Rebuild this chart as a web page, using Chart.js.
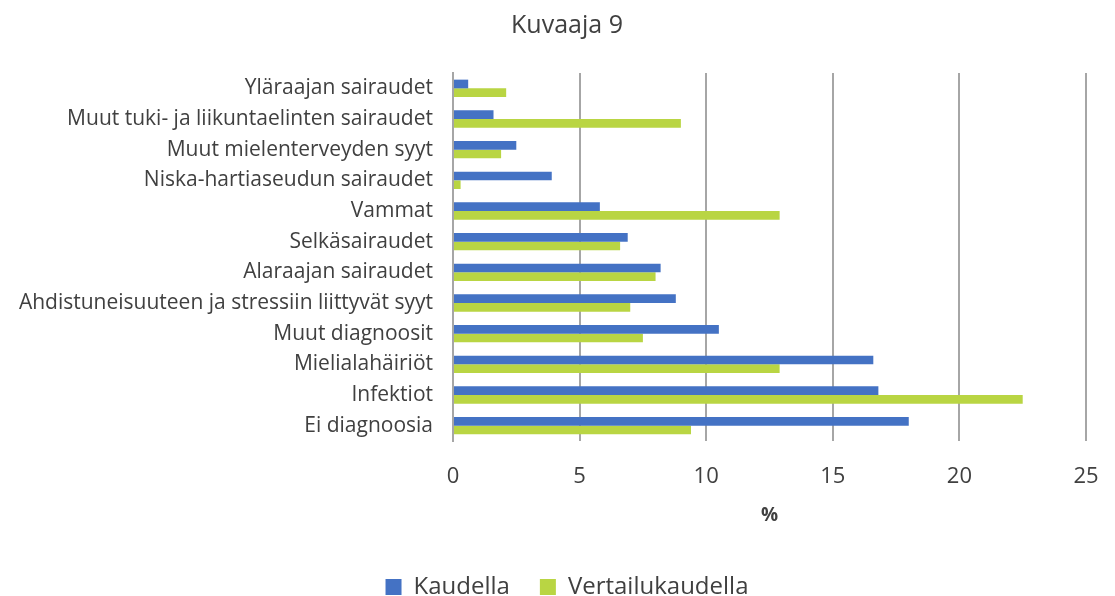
<!DOCTYPE html>
<html>
<head>
<meta charset="utf-8">
<script src="https://cdn.jsdelivr.net/npm/chart.js@4/dist/chart.umd.min.js"></script>
<style>
html,body{margin:0;padding:0;background:#fff;}
#wrap{width:1115px;height:596px;position:relative;}
</style>
</head>
<body>
<div id="wrap"><canvas id="c" width="1115" height="596"></canvas></div>
<script>
const categories = [
  "Yläraajan sairaudet",
  "Muut tuki- ja liikuntaelinten sairaudet",
  "Muut mielenterveyden syyt",
  "Niska-hartiaseudun sairaudet",
  "Vammat",
  "Selkäsairaudet",
  "Alaraajan sairaudet",
  "Ahdistuneisuuteen ja stressiin liittyvät syyt",
  "Muut diagnoosit",
  "Mielialahäiriöt",
  "Infektiot",
  "Ei diagnoosia"
];
const kaudella = [0.6, 1.6, 2.5, 3.9, 5.8, 6.9, 8.2, 8.8, 10.5, 16.6, 16.8, 18.0];
const vertailukaudella = [2.1, 9.0, 1.9, 0.3, 12.9, 6.6, 8.0, 7.0, 7.5, 12.9, 22.5, 9.4];
const seriesNames = ["Kaudella", "Vertailukaudella"];
const xTicks = [0, 5, 10, 15, 20, 25];
const titleText = "Kuvaaja 9";
const xAxisTitle = "%";

const FONT = "'Open Sans', sans-serif";
const TXT = "#404040";
const LEFT_PAD = 48;
const RIGHT_PAD = 29;

// let long category labels extend into the left padding without being clipped
const unclipLabels = {
  id: 'unclipLabels',
  afterLayout(chart) { chart.scales.y.left = 0; }
};

new Chart(document.getElementById('c'), {
  type: 'bar',
  data: {
    labels: categories,
    datasets: [
      { label: seriesNames[0], data: kaudella, backgroundColor: '#4472C4', barPercentage: 1.0, categoryPercentage: 0.567 },
      { label: seriesNames[1], data: vertailukaudella, backgroundColor: '#B9D543', barPercentage: 1.0, categoryPercentage: 0.567 }
    ]
  },
  plugins: [unclipLabels],
  options: {
    indexAxis: 'y',
    responsive: false,
    animation: false,
    layout: { padding: { left: LEFT_PAD, right: RIGHT_PAD, top: 0, bottom: 0 } },
    plugins: {
      title: { display: true, text: titleText, color: TXT, font: { family: FONT, size: 25, weight: 'normal' }, padding: { top: 11, bottom: 32 } },
      legend: {
        position: 'bottom',
        maxHeight: 51,
        labels: { color: TXT, font: { family: FONT, size: 24 }, boxWidth: 16, boxHeight: 16, padding: 30 }
      },
      tooltip: { enabled: false }
    },
    scales: {
      x: {
        min: 0, max: 25,
        afterBuildTicks: (s) => { s.ticks = xTicks.map(v => ({ value: v })); },
        afterFit: (s) => { s.height = 104; s.paddingLeft = 0; s.paddingRight = 0; },
        ticks: { color: TXT, font: { family: FONT, size: 22 }, padding: 23 },
        grid: { color: '#A6A6A6', lineWidth: 2, drawTicks: false },
        border: { display: false },
        title: { display: true, text: xAxisTitle, color: TXT, font: { family: FONT, size: 19, weight: 'bold' }, padding: { top: 14, bottom: 18 } }
      },
      y: {
        afterFit: (s) => { s.width = 453 - LEFT_PAD; },
        ticks: { color: TXT, font: { family: FONT, size: 21 }, padding: 20 },
        grid: { display: false, drawTicks: false },
        border: { display: true, color: '#A6A6A6', width: 2 }
      }
    }
  }
});
</script>
</body>
</html>
